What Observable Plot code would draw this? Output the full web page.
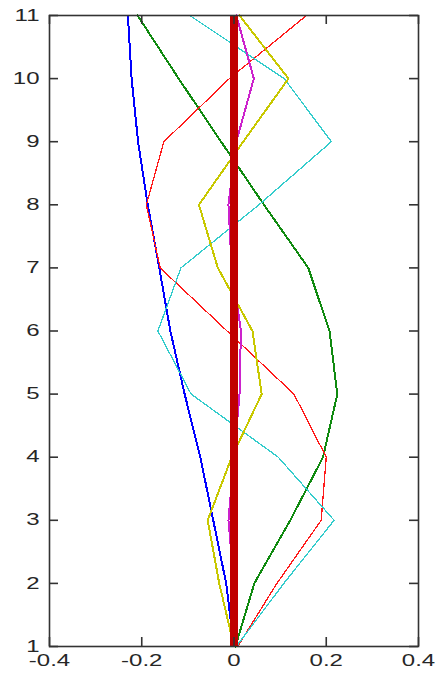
<!DOCTYPE html>
<html>
<head>
<meta charset="utf-8">
<script src="https://cdn.jsdelivr.net/npm/d3@7"></script>
<script src="https://cdn.jsdelivr.net/npm/@observablehq/plot@0.6"></script>
<style>
  html, body { margin: 0; padding: 0; background: #fff; }
  #chart { width: 435px; height: 673px; }
</style>
</head>
<body>
<div id="chart"></div>
<script>
// y levels (vertical axis)
const yLevels = [1, 2, 3, 4, 5, 6, 7, 8, 9, 10, 11];
// series values (horizontal position) at each level
const blue    = [0, -0.017, -0.045, -0.073, -0.107, -0.138, -0.162, -0.187, -0.208, -0.222, -0.230];
const green   = [0.003, 0.044, 0.122, 0.193, 0.224, 0.207, 0.161, 0.065, -0.028, -0.120, -0.209];
const red     = [0.008, 0.093, 0.189, 0.200, 0.130, -0.015, -0.160, -0.190, -0.152, -0.010, 0.157];
const cyan    = [0.005, 0.108, 0.217, 0.096, -0.093, -0.165, -0.115, 0.054, 0.211, 0.109, -0.096];
const yellow  = [0, -0.032, -0.057, -0.005, 0.060, 0.040, -0.035, -0.076, 0.020, 0.118, 0.012];
const magenta = [0, 0, -0.012, 0, 0.012, 0.015, -0.005, -0.012, 0.005, 0.043, 0.005];
const zeroLine = [0];

const xTicks = [-0.4, -0.2, 0, 0.2, 0.4];
const yTicks = [1, 2, 3, 4, 5, 6, 7, 8, 9, 10, 11];
const xTickLabels = ["-0.4", "-0.2", "0", "0.2", "0.4"];

const series = [
  {name: "blue", values: blue, color: "#0000ff", width: 2},
  {name: "green", values: green, color: "#108a10", width: 2},
  {name: "red", values: red, color: "#ff1a1a", width: 1.3},
  {name: "cyan", values: cyan, color: "#33cccc", width: 1.3},
  {name: "yellow", values: yellow, color: "#c8c800", width: 2},
  {name: "magenta", values: magenta, color: "#cc22cc", width: 2}
];

const W = 435, H = 673;
const mL = 49, mR = 17, mT = 15, mB = 27;
const tickLen = 9;
const innerW = W - mL - mR, innerH = H - mT - mB;

const lineMarks = series.map(s =>
  Plot.line(yLevels.map((y, i) => ({x: s.values[i], y})), {
    x: "x", y: "y", stroke: s.color, strokeWidth: s.width, curve: "linear"
  })
);

const chart = Plot.plot({
  width: W,
  height: H,
  marginLeft: mL,
  marginRight: mR,
  marginTop: mT,
  marginBottom: mB,
  style: {fontFamily: "'Liberation Sans', Arial, sans-serif", fontSize: "16px", color: "#262626", background: "#fff"},
  x: {domain: [-0.4, 0.4]},
  y: {domain: [1, 11]},
  marks: [
    ...lineMarks,
    Plot.ruleX(zeroLine, {stroke: "#c00000", strokeWidth: 8}),
    Plot.frame({stroke: "#333", strokeWidth: 1.6}),
    // inward ticks on all four sides
    Plot.tickX(xTicks, {x: d => d, stroke: "#333", strokeWidth: 1.6, insetTop: innerH - tickLen}),
    Plot.tickX(xTicks, {x: d => d, stroke: "#333", strokeWidth: 1.6, insetBottom: innerH - tickLen}),
    Plot.tickY(yTicks, {y: d => d, stroke: "#333", strokeWidth: 1.6, insetRight: innerW - tickLen}),
    Plot.tickY(yTicks, {y: d => d, stroke: "#333", strokeWidth: 1.6, insetLeft: innerW - tickLen}),
    Plot.axisX({ticks: xTicks, tickSize: 0, tickPadding: 8, tickFormat: (d, i) => xTickLabels[i], fontSize: 16, label: null}),
    Plot.axisY({ticks: yTicks, tickSize: 0, tickPadding: 10, tickFormat: d => String(d), fontSize: 16, label: null})
  ]
});

document.getElementById("chart").appendChild(chart);

// horizontally stretch label glyphs to match the reference's wide lettering
chart.querySelectorAll("text").forEach(t => {
  const xAttr = t.getAttribute("x");
  let tr = t.getAttribute("transform") || "";
  if (xAttr !== null) {
    tr = tr + ` translate(${xAttr},0)`;
    t.removeAttribute("x");
  }
  t.setAttribute("transform", tr + " scale(1.5,1)");
});
// aliased look for the data lines
chart.querySelectorAll("path").forEach(p => p.setAttribute("shape-rendering", "crispEdges"));
</script>
</body>
</html>
